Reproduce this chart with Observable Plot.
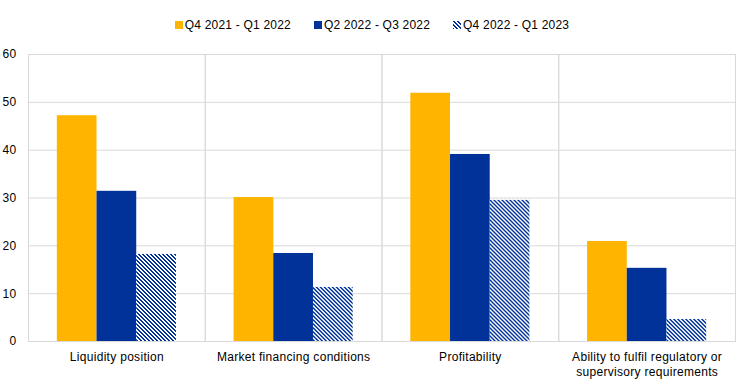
<!DOCTYPE html>
<html>
<head>
<meta charset="utf-8">
<script src="https://cdn.jsdelivr.net/npm/d3@7"></script>
<script src="https://cdn.jsdelivr.net/npm/@observablehq/plot@0.6"></script>
<style>
  body { margin: 0; background: #fff; font-family: "Liberation Sans", Arial, sans-serif; }
  #legend { height: 40px; box-sizing: border-box; padding-top: 10px; display: flex; justify-content: center; align-items: center; gap: 23px; font-size: 12px; letter-spacing: 0.2px; color: #000; }
  .item { display: flex; align-items: center; gap: 2px; white-space: nowrap; }
  .item svg { display: block; }
  #chart svg { display: block; }
  #chart svg text { letter-spacing: 0.3px; }
</style>
</head>
<body>
<svg width="0" height="0" style="position:absolute">
  <defs>
    <pattern id="hatch" patternUnits="userSpaceOnUse" x="0" y="0" width="4" height="4">
      <rect width="4" height="4" fill="#ffffff"/>
      <rect x="0" y="0" width="2" height="1" fill="#003299"/>
      <rect x="1" y="1" width="2" height="1" fill="#003299"/>
      <rect x="2" y="2" width="2" height="1" fill="#003299"/>
      <rect x="3" y="3" width="1" height="1" fill="#003299"/>
      <rect x="0" y="3" width="1" height="1" fill="#003299"/>
    </pattern>
  </defs>
</svg>
<div id="legend"></div>
<div id="chart"></div>
<script>
const categories = ["Liquidity position", "Market financing conditions", "Profitability", "Ability to fulfil regulatory or supervisory requirements"];
const categoryLabels = ["Liquidity position", "Market financing conditions", "Profitability", "Ability to fulfil regulatory or\nsupervisory requirements"];
const series = ["Q4 2021 - Q1 2022", "Q2 2022 - Q3 2022", "Q4 2022 - Q1 2023"];
const q4_2021_q1_2022 = [47.2, 30.1, 51.9, 20.9];
const q2_2022_q3_2022 = [31.4, 18.4, 39.1, 15.3];
const q4_2022_q1_2023 = [18.2, 11.3, 29.5, 4.6];
const yTicks = [0, 10, 20, 30, 40, 50, 60];
const colors = ["#FFB400", "#003299", "url(#hatch)"];

const seriesValues = [q4_2021_q1_2022, q2_2022_q3_2022, q4_2022_q1_2023];
const data = [];
categories.forEach((c, i) => {
  series.forEach((s, j) => {
    data.push({category: c, series: s, value: seriesValues[j][i]});
  });
});

// Legend
const legend = document.getElementById("legend");
series.forEach((s, j) => {
  const item = document.createElement("div");
  item.className = "item";
  item.innerHTML = `<svg width="8" height="8"><rect x="0" y="0" width="8" height="8" fill="${colors[j]}"/></svg><span>${s}</span>`;
  legend.appendChild(item);
});

const chart = Plot.plot({
  width: 744,
  height: 344,
  marginTop: 14,
  marginBottom: 43,
  marginLeft: 28,
  marginRight: 9,
  style: {fontFamily: "'Liberation Sans', Arial, sans-serif", fontSize: "12px", color: "#000", background: "#fff"},
  fx: {domain: categories, padding: 0, label: null, round: false},
  x: {domain: series, paddingInner: 0, paddingOuter: 0.726, axis: null, round: false},
  y: {domain: [0, 60], label: null},
  color: {domain: series, range: colors},
  marks: [
    Plot.gridY(yTicks, {stroke: "#d9d9d9", strokeOpacity: 1}),
    Plot.frame({stroke: "#d9d9d9"}),
    Plot.barY(data, {fx: "category", x: "series", y: "value", fill: "series", inset: 0}),
    Plot.axisY(yTicks, {tickSize: 0, tickPadding: 12, label: null}),
    Plot.axisFx({anchor: "bottom", tickSize: 0, tickPadding: 9, label: null, lineHeight: 1.25, lineWidth: Infinity,
      tickFormat: d => categoryLabels[categories.indexOf(d)]})
  ]
});
document.getElementById("chart").appendChild(chart);
</script>
</body>
</html>
